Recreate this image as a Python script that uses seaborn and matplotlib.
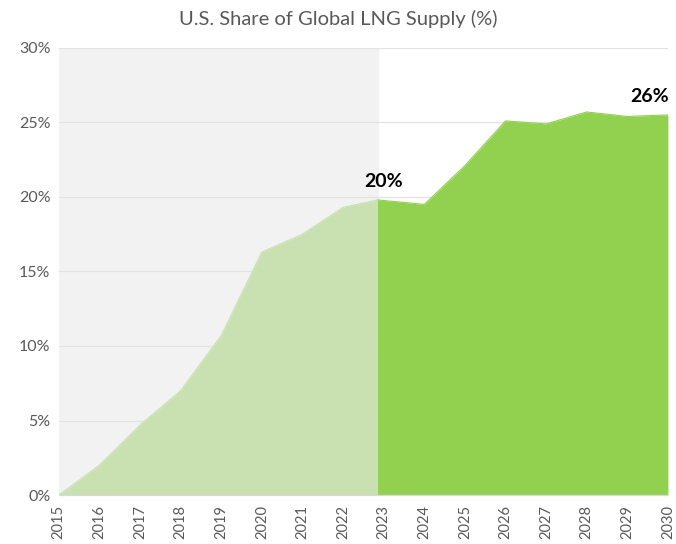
import numpy as np
import pandas as pd
import seaborn as sns
import matplotlib.pyplot as plt

# --- data ---
hist_years = [2015, 2016, 2017, 2018, 2019, 2020, 2021, 2022, 2022.85]
hist_share = [0.0, 2.0, 4.7, 7.0, 10.7, 16.3, 17.5, 19.3, 19.8]
fcst_years = [2022.85, 2024, 2025, 2026, 2027, 2028, 2029, 2030]
fcst_share = [19.8, 19.5, 22.1, 25.1, 24.9, 25.7, 25.4, 25.5]
tick_years = list(range(2015, 2031))
y_ticks = [0, 5, 10, 15, 20, 25, 30]
callouts = [(2023.0, 19.8, "20%"), (2029.55, 25.5, "26%")]

df_hist = pd.DataFrame({"year": hist_years, "share": hist_share})
df_fcst = pd.DataFrame({"year": fcst_years, "share": fcst_share})

sns.set_theme(style="white")
plt.rcParams["font.family"] = ["Lato", "DejaVu Sans"]

LIGHT = "#c9e0b1"
DARK = "#92d050"
TXT = "#595959"

fig = plt.figure(figsize=(6.76, 5.44), dpi=100)
ax = fig.add_axes([0.087, 0.09, 0.901, 0.822])

# shaded background for the historical period
ax.axvspan(hist_years[0], hist_years[-1], color="#f2f2f2", zorder=0)

for y in y_ticks[1:]:
    ax.axhline(y, color="#e3e3e3", lw=0.9, zorder=1)

ax.fill_between(df_hist["year"], df_hist["share"], color=LIGHT, lw=0, zorder=2)
ax.fill_between(df_fcst["year"], df_fcst["share"], color=DARK, lw=0, zorder=2)
sns.lineplot(data=df_hist, x="year", y="share", color=LIGHT, lw=0.8, ax=ax, zorder=3)
sns.lineplot(data=df_fcst, x="year", y="share", color=DARK, lw=0.8, ax=ax, zorder=3)

for x, y, label in callouts:
    ax.annotate(label, (x, y), xytext=(0, 7), textcoords="offset points",
                ha="center", va="bottom", fontsize=14, fontweight="bold",
                color="black")

ax.set_xlim(2015, 2030)
ax.set_ylim(0, 30)
ax.set_xticks(tick_years)
ax.set_xticklabels([str(y) for y in tick_years], rotation=90, color=TXT, fontsize=10.5)
ax.set_yticks(y_ticks)
ax.set_yticklabels([f"{y}%" for y in y_ticks], color=TXT, fontsize=11.5)
ax.tick_params(axis="x", length=5, color="#d9d9d9", pad=2)
ax.tick_params(axis="y", length=0, pad=6)
ax.set_xlabel("")
ax.set_ylabel("")

for side in ["top", "right", "left"]:
    ax.spines[side].set_visible(False)
ax.spines["bottom"].set_color("#d9d9d9")
ax.spines["bottom"].set_linewidth(0.9)

fig.text(0.5, 0.966, "U.S. Share of Global LNG Supply (%)", ha="center",
         va="center", fontsize=14.5, color=TXT)

fig.savefig("out.png", dpi=100)
plt.close(fig)
